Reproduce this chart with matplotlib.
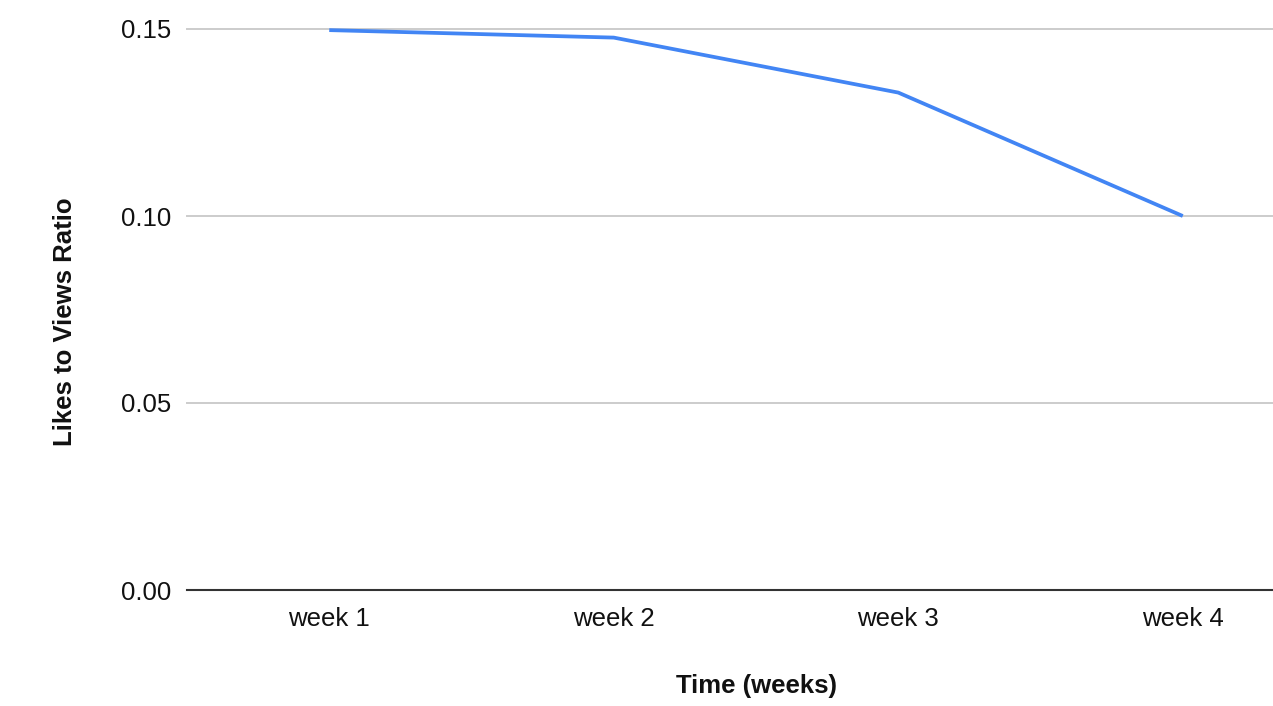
import matplotlib.pyplot as plt

# Data
weeks = ['week 1', 'week 2', 'week 3', 'week 4']
ratio = [0.1497, 0.1477, 0.1330, 0.1000]
y_ticks = [0.00, 0.05, 0.10, 0.15]

plt.rcParams['font.family'] = ['Liberation Sans', 'DejaVu Sans']

W, H = 1273, 706
fig = plt.figure(figsize=(W / 100, H / 100), dpi=100)
# chart area runs a little past the right edge, like the cropped original
left, right, top, bottom = 187, 1325, 29, 590
ax = fig.add_axes([left / W, 1 - bottom / H, (right - left) / W, (bottom - top) / H])

x = list(range(1, len(weeks) + 1))
ax.plot(x, ratio, color='#4285F4', linewidth=2.7, solid_capstyle='butt',
        solid_joinstyle='round', clip_on=False, zorder=3)

ax.set_xlim(0.5, len(weeks) + 0.5)
ax.set_ylim(0, 0.15)
ax.set_xticks(x)
ax.set_xticklabels(weeks)
ax.set_yticks(y_ticks)
ax.set_yticklabels([f'{v:.2f}' for v in y_ticks])

for v in y_ticks[1:]:
    ax.axhline(v, color='#cccccc', linewidth=1.4, zorder=1, clip_on=False)
ax.axhline(0, color='#333333', linewidth=1.5, zorder=2, clip_on=False)

for s in ax.spines.values():
    s.set_visible(False)
ax.tick_params(axis='both', length=0, labelsize=18.5, colors='#111111')
ax.tick_params(axis='y', pad=11)
ax.tick_params(axis='x', pad=12)

fig.text(756 / W, 1 - 686 / H, 'Time (weeks)', ha='center', va='center',
         fontsize=18.5, fontweight='bold', color='#111111')
fig.text(65 / W, 1 - 322 / H, 'Likes to Views Ratio', ha='center', va='center',
         rotation=90, fontsize=18.5, fontweight='bold', color='#111111')

fig.savefig('out.png', dpi=100)
